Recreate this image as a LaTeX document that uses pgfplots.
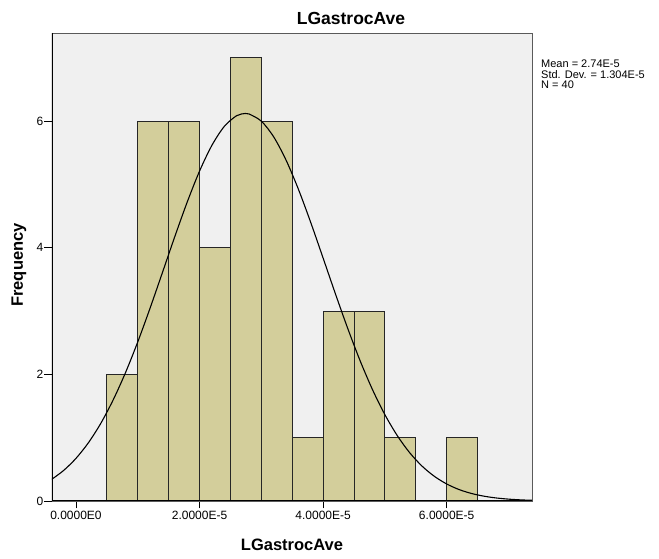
\documentclass[border=0pt]{standalone}
\usepackage{pgfplots}
\pgfplotsset{compat=1.18}
\usepackage{fontspec}
\setmainfont{Liberation Sans}
\definecolor{barfill}{RGB}{211,206,155}
\definecolor{plotbg}{RGB}{240,240,240}
\definecolor{frame}{RGB}{90,90,90}

\begin{document}
\begin{tikzpicture}
\begin{axis}[
  name=ax,
  scale only axis,
  width=480pt, height=468pt,
  xmin=-0.388, xmax=7.381,
  ymin=0, ymax=7.39,
  axis background/.style={fill=plotbg},
  axis line style={draw=frame, line width=0.8pt},
  tick align=outside,
  major tick length=7.5pt,
  tick style={black, line width=0.9pt},
  xtick pos=bottom, ytick pos=left,
  xtick={0,2,4,6},
  xticklabels={0.0000E0,2.0000E-5,4.0000E-5,6.0000E-5},
  ytick={0,2,4,6},
  yticklabels={0,2,4,6},
  tick label style={font=\fontsize{12}{12}\selectfont},
  yticklabel style={inner sep=1pt},
  xticklabel style={inner sep=2.5pt},
]
% frequencies per bin of width 0.5E-5, starting at 0.5E-5
\addplot[ybar interval, fill=barfill, draw=black!85, line width=0.8pt]
  coordinates {(0.5,2) (1.0,6) (1.5,6) (2.0,4) (2.5,7) (3.0,6) (3.5,1)
               (4.0,3) (4.5,3) (5.0,1) (5.5,0) (6.0,1) (6.5,0)};
% fitted normal curve (mean 2.74E-5, sd 1.304E-5, N = 40)
\addplot[black, line width=1.1pt, smooth] coordinates {
  (-0.4,0.337) (-0.2,0.482) (0.0,0.673) (0.2,0.918) (0.4,1.223)
  (0.6,1.592) (0.8,2.023) (1.0,2.512) (1.2,3.047) (1.4,3.609)
  (1.6,4.176) (1.8,4.719) (2.0,5.209) (2.2,5.616) (2.4,5.914)
  (2.6,6.084) (2.74,6.119) (2.8,6.112) (3.0,5.998) (3.2,5.750)
  (3.4,5.383) (3.6,4.923) (3.8,4.397) (4.0,3.836) (4.2,3.269)
  (4.4,2.721) (4.6,2.212) (4.8,1.757) (5.0,1.363) (5.2,1.033)
  (5.4,0.764) (5.6,0.552) (5.8,0.390) (6.0,0.269) (6.2,0.181)
  (6.4,0.119) (6.6,0.0766) (6.8,0.0480) (7.0,0.0295) (7.2,0.0176)
  (7.4,0.0103)};
% darker left and bottom axis lines
\draw[black, line width=1.1pt] (rel axis cs:0,1) -- (rel axis cs:0,0) -- (rel axis cs:1,0);
\end{axis}

\begin{scope}[shift={(ax.south west)}]
  \path (-52pt,-58pt) rectangle (607pt,501pt);
  \node[anchor=base, font=\bfseries\fontsize{17.5}{17.5}\selectfont, inner sep=0pt]
    at (299pt,476pt) {LGastrocAve};
  \node[anchor=base, font=\bfseries\fontsize{16.5}{16.5}\selectfont, inner sep=0pt]
    at (240pt,-50pt) {LGastrocAve};
  \node[rotate=90, font=\bfseries\fontsize{16.5}{16.5}\selectfont, inner sep=0pt]
    at (-33pt,236pt) {Frequency};
  \node[anchor=base west, font=\fontsize{11}{11}\selectfont, inner sep=0pt]
    at (489pt,433pt) {Mean = 2.74E-5};
  \node[anchor=base west, font=\fontsize{11}{11}\selectfont, inner sep=0pt]
    at (489pt,422.5pt) {Std. Dev. = 1.304E-5};
  \node[anchor=base west, font=\fontsize{11}{11}\selectfont, inner sep=0pt]
    at (489pt,412pt) {N = 40};
\end{scope}
\end{tikzpicture}
\end{document}
